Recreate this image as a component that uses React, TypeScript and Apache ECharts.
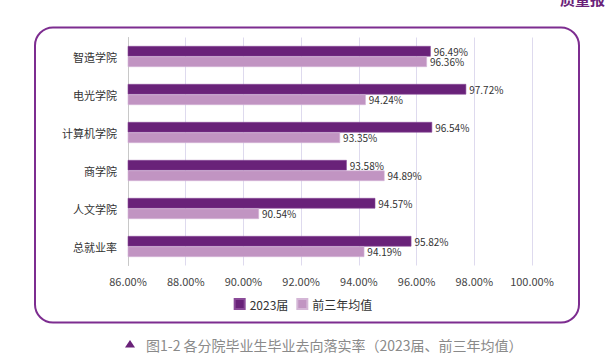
import React, { useEffect, useRef } from "react";
import * as echarts from "echarts";

const categories = ["智造学院", "电光学院", "计算机学院", "商学院", "人文学院", "总就业率"];
const values2023 = [96.49, 97.72, 96.54, 93.58, 94.57, 95.82];
const valuesAvg = [96.36, 94.24, 93.35, 94.89, 90.54, 94.19];
const seriesNames = ["2023届", "前三年均值"];
const caption = "图1-2 各分院毕业生毕业去向落实率（2023届、前三年均值）";

const FONT = "'Noto Sans CJK SC', 'Noto Sans', sans-serif";
const DARK = "#692279";
const LIGHT = "#c194c2";

export default function App() {
  const ref = useRef<HTMLDivElement>(null);
  useEffect(() => {
    document.body.style.margin = "0";
    const chart = echarts.init(ref.current!, null, { renderer: "svg" });
    const label = {
      show: true,
      position: "right",
      distance: 3,
      fontSize: 10,
      lineHeight: 10,
      color: "#333",
      fontFamily: FONT,
      formatter: (p: any) => Number(p.value).toFixed(2) + "%",
    };
    chart.setOption({
      animation: false,
      textStyle: { fontFamily: FONT },
      grid: { left: 128, right: 74, top: 37.5, bottom: 95.5 },
      legend: {
        top: 293,
        left: "center",
        itemWidth: 10,
        itemHeight: 10,
        itemGap: 8,
        icon: "rect",
        textStyle: { fontSize: 12, color: "#333", fontFamily: FONT },
        data: seriesNames,
      },
      xAxis: {
        type: "value",
        min: 86,
        max: 100,
        interval: 2,
        axisLine: { show: false },
        axisTick: { show: false },
        splitLine: { lineStyle: { color: "#dedaee", width: 1 } },
        axisLabel: {
          fontSize: 11,
          color: "#444",
          margin: 10,
          fontFamily: FONT,
          formatter: (v: number) => v.toFixed(2) + "%",
        },
      },
      yAxis: {
        type: "category",
        data: categories,
        inverse: true,
        axisLine: { show: true, lineStyle: { color: "#c8c8c8" } },
        axisTick: { show: false },
        axisLabel: { fontSize: 11, color: "#333", margin: 11, fontFamily: FONT },
      },
      series: [
        {
          name: seriesNames[0],
          type: "bar",
          data: values2023,
          barWidth: 10.5,
          barGap: "0%",
          itemStyle: { color: DARK, borderColor: "#8a4a98", borderWidth: 0.6 },
          label,
        },
        {
          name: seriesNames[1],
          type: "bar",
          data: valuesAvg,
          barWidth: 10.5,
          barGap: "0%",
          itemStyle: { color: LIGHT, borderColor: "#d4b6d6", borderWidth: 0.6 },
          label,
        },
      ],
      graphic: [
        {
          type: "rect",
          shape: { x: 35, y: 27.5, width: 544, height: 295, r: 18 },
          style: { fill: "none", stroke: "#7d2d90", lineWidth: 2 },
          silent: true,
        },
        {
          type: "polygon",
          shape: { points: [[125, 347.5], [135, 347.5], [130, 340]] },
          style: { fill: "#6a2279" },
        },
        {
          type: "text",
          x: 146,
          y: 344.5,
          style: {
            text: caption,
            fontSize: 14,
            fill: "#8a8a8a",
            fontFamily: FONT,
            textVerticalAlign: "middle",
          },
        },
        {
          type: "text",
          x: 560,
          y: 6,
          style: {
            text: "质量报告",
            fontSize: 15,
            fontWeight: "bold",
            fill: "#6a2279",
            fontFamily: FONT,
            textVerticalAlign: "bottom",
          },
        },
      ],
    });
    return () => chart.dispose();
  }, []);
  return <div ref={ref} style={{ width: 606, height: 361, position: "absolute", left: 0, top: 0 }} />;
}
